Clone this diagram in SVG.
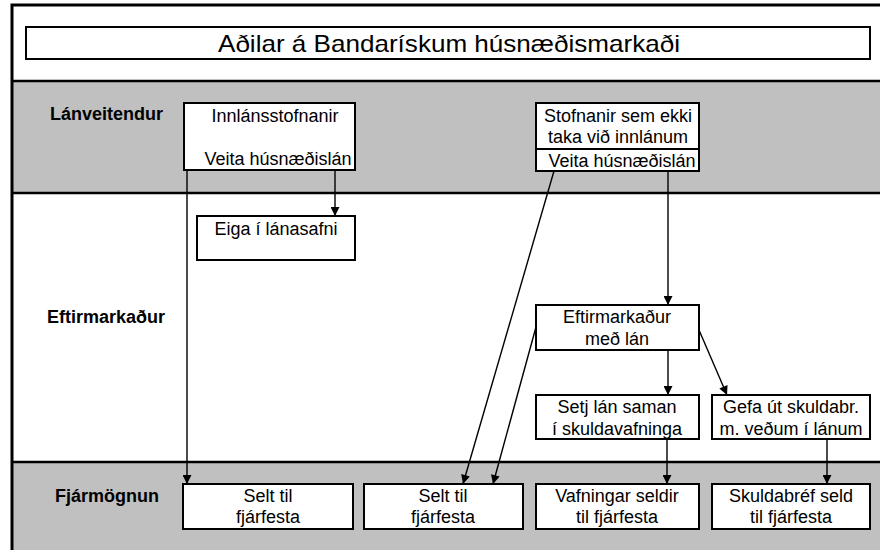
<svg xmlns="http://www.w3.org/2000/svg" width="880" height="550" viewBox="0 0 880 550">
<style>
.box{fill:#fff;stroke:#000;stroke-width:2}
.band{fill:#c0c0c0}
.bl{stroke:#000;stroke-width:2.5;fill:none}
.t{font-family:"Liberation Sans",Arial,sans-serif;font-size:18px;fill:#000;text-anchor:middle}
.lbl{font-family:"Liberation Sans",Arial,sans-serif;font-size:18px;font-weight:bold;fill:#000}
.title{font-family:"Liberation Sans",Arial,sans-serif;font-size:24px;fill:#000;text-anchor:middle}
.c{stroke:#000;stroke-width:1.4;fill:none;marker-end:url(#ah)}
</style>
<defs>
<marker id="ah" viewBox="0 0 10 10" refX="10" refY="5" markerWidth="11" markerHeight="9" markerUnits="userSpaceOnUse" orient="auto">
<path d="M0,0 L10,5 L0,10 z" fill="#000"/>
</marker>
</defs>
<rect x="0" y="0" width="880" height="550" fill="#fff"/>
<g id="bands">
<rect class="band" x="12" y="81" width="868" height="112"/>
<rect class="band" x="12" y="462" width="868" height="88"/>
<line class="bl" x1="12" y1="81" x2="880" y2="81"/>
<line class="bl" x1="12" y1="193" x2="880" y2="193"/>
<line class="bl" x1="12" y1="462" x2="880" y2="462"/>
<path d="M12,550 L12,5 L880,5" stroke="#000" stroke-width="3" fill="none"/>
</g>
<g id="title">
<rect class="box" x="26" y="27" width="844" height="32"/>
<text class="title" x="449" y="52" textLength="462" lengthAdjust="spacingAndGlyphs">Aðilar á Bandarískum húsnæðismarkaði</text>
</g>
<g id="labels">
<text class="lbl" x="50" y="120">Lánveitendur</text>
<text class="lbl" x="47" y="323">Eftirmarkaður</text>
<text class="lbl" x="55" y="502">Fjármögnun</text>
</g>
<g id="connectors">
<line class="c" x1="335" y1="170" x2="335" y2="216"/>
<line class="c" x1="187" y1="170" x2="187" y2="484"/>
<line class="c" x1="554" y1="171" x2="463" y2="484"/>
<line class="c" x1="668" y1="171" x2="668" y2="305"/>
<line class="c" x1="536" y1="327" x2="493" y2="484"/>
<line class="c" x1="699" y1="330" x2="727" y2="395"/>
<line class="c" x1="668" y1="350" x2="668" y2="395"/>
<line class="c" x1="667" y1="439" x2="667" y2="484"/>
<line class="c" x1="827" y1="439" x2="827" y2="484"/>
</g>
<g id="innlansstofnanir">
<rect class="box" x="184" y="103" width="171" height="67"/>
<text class="t" x="275" y="122">Innlánsstofnanir</text>
<text class="t" x="278" y="165">Veita húsnæðislán</text>
</g>
<g id="eiga">
<rect class="box" x="197" y="216" width="158" height="44"/>
<text class="t" x="276" y="235">Eiga í lánasafni</text>
</g>
<g id="stofnanir">
<rect class="box" x="536" y="103" width="163" height="68"/>
<line x1="536" y1="149" x2="699" y2="149" stroke="#000" stroke-width="2"/>
<text class="t" x="618" y="122">Stofnanir sem ekki</text>
<text class="t" x="618" y="143">taka við innlánum</text>
<text class="t" x="622" y="167">Veita húsnæðislán</text>
</g>
<g id="eftirmarkadur">
<rect class="box" x="536" y="305" width="163" height="45"/>
<text class="t" x="617" y="323">Eftirmarkaður</text>
<text class="t" x="617" y="345">með lán</text>
</g>
<g id="setj">
<rect class="box" x="536" y="395" width="163" height="44"/>
<text class="t" x="617" y="413">Setj lán saman</text>
<text class="t" x="617" y="435">í skuldavafninga</text>
</g>
<g id="gefa">
<rect class="box" x="712" y="395" width="158" height="44"/>
<text class="t" x="791" y="413">Gefa út skuldabr.</text>
<text class="t" x="791" y="435">m. veðum í lánum</text>
</g>
<g id="selt1">
<rect class="box" x="183" y="484" width="170" height="45"/>
<text class="t" x="268" y="502">Selt til</text>
<text class="t" x="268" y="523">fjárfesta</text>
</g>
<g id="selt2">
<rect class="box" x="364" y="484" width="159" height="45"/>
<text class="t" x="443" y="502">Selt til</text>
<text class="t" x="443" y="523">fjárfesta</text>
</g>
<g id="vafningar">
<rect class="box" x="536" y="484" width="163" height="45"/>
<text class="t" x="617" y="502">Vafningar seldir</text>
<text class="t" x="617" y="523">til fjárfesta</text>
</g>
<g id="skuldabref">
<rect class="box" x="712" y="484" width="158" height="45"/>
<text class="t" x="791" y="502">Skuldabréf seld</text>
<text class="t" x="791" y="523">til fjárfesta</text>
</g>
</svg>
